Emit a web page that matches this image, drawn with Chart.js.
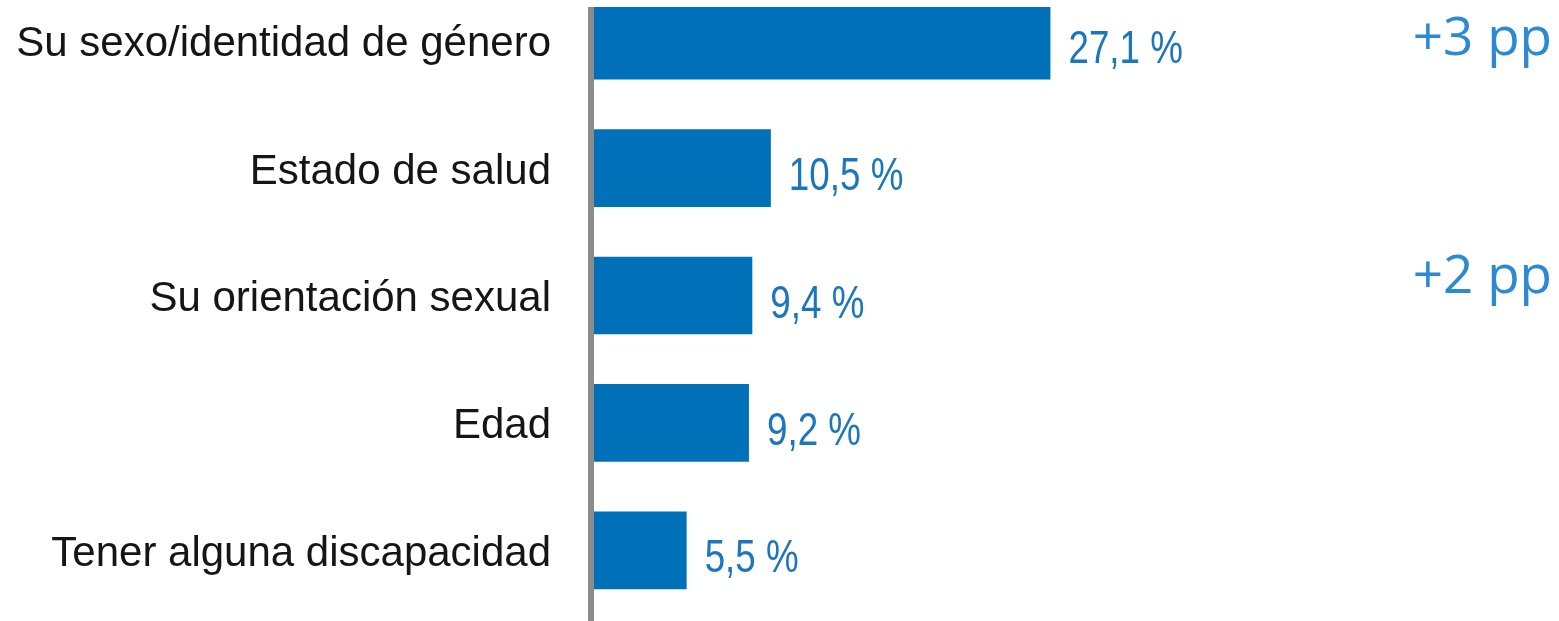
<!DOCTYPE html>
<html><head><meta charset="utf-8">
<script src="https://cdn.jsdelivr.net/npm/chart.js@4"></script>
<style>
html,body{margin:0;padding:0;background:#fff;overflow:hidden;width:1559px;height:621px;}
#wrap{position:absolute;left:0;top:-31px;width:1559px;height:652px;}
</style></head><body>
<div id="wrap"><canvas id="c" width="1559" height="652"></canvas></div>
<script>
const categories = ['Su sexo/identidad de género', 'Estado de salud', 'Su orientación sexual', 'Edad', 'Tener alguna discapacidad'];
const values = [27.1, 10.5, 9.4, 9.2, 5.5];
const valueLabels = ['27,1 %', '10,5 %', '9,4 %', '9,2 %', '5,5 %'];
const changes = ['+3 pp', '', '+2 pp', '', ''];

const BAR = '#0070b8';
const VALUE_COLOR = '#1c76be';
const CHANGE_COLOR = '#2b8ad2';
const AXIS_COLOR = '#8c8c8c';

const changeOffsets = [14, 0, -2.5, 0, 0];

const overlay = {
  id: 'overlay',
  afterDatasetsDraw(chart) {
    const ctx = chart.ctx;
    const xs = chart.scales.x, ys = chart.scales.y;
    const x0 = xs.getPixelForValue(0);
    ctx.save();
    // axis line
    ctx.fillStyle = AXIS_COLOR;
    ctx.fillRect(x0 - 6, 38, 6, chart.height - 38);
    // value labels (narrowed)
    ctx.fillStyle = VALUE_COLOR;
    ctx.font = '46px "Liberation Sans", Arial, sans-serif';
    ctx.textAlign = 'left';
    ctx.textBaseline = 'alphabetic';
    values.forEach((v, i) => {
      const x = xs.getPixelForValue(v) + 18;
      const y = ys.getPixelForValue(i) + 22;
      ctx.save();
      ctx.translate(x, y);
      ctx.scale(0.8, 1);
      ctx.fillText(valueLabels[i], 0, 0);
      ctx.restore();
    });
    // change annotations
    ctx.fillStyle = CHANGE_COLOR;
    ctx.font = '53px "Open Sans", sans-serif';
    ctx.textAlign = 'right';
    changes.forEach((t, i) => {
      if (!t) return;
      ctx.fillText(t, 1552, ys.getPixelForValue(i) + changeOffsets[i]);
    });
    ctx.restore();
  }
};

new Chart(document.getElementById('c'), {
  type: 'bar',
  data: {
    labels: categories,
    datasets: [{
      data: values,
      backgroundColor: BAR,
      borderWidth: 0,
      barPercentage: 0.61,
      categoryPercentage: 1.0,
      clip: {left: false, top: -30, right: false, bottom: false}
    }]
  },
  options: {
    indexAxis: 'y',
    responsive: false,
    animation: false,
    devicePixelRatio: 1,
    layout: {padding: {top: 8, bottom: 7, left: 0, right: 5}},
    plugins: {legend: {display: false}, tooltip: {enabled: false}},
    scales: {
      x: {display: false, min: 0, max: 57},
      y: {
        grid: {display: false, drawTicks: false},
        border: {display: false},
        ticks: {
          color: '#151515',
          padding: 43,
          labelOffset: 4,
          font: {family: '"Liberation Sans", Arial, sans-serif', size: 42}
        },
        afterFit(scale) {
          scale.width = 594;
          scale.paddingTop = 0;
          scale.paddingBottom = 0;
        }
      }
    }
  },
  plugins: [overlay]
});
</script>
</body></html>
